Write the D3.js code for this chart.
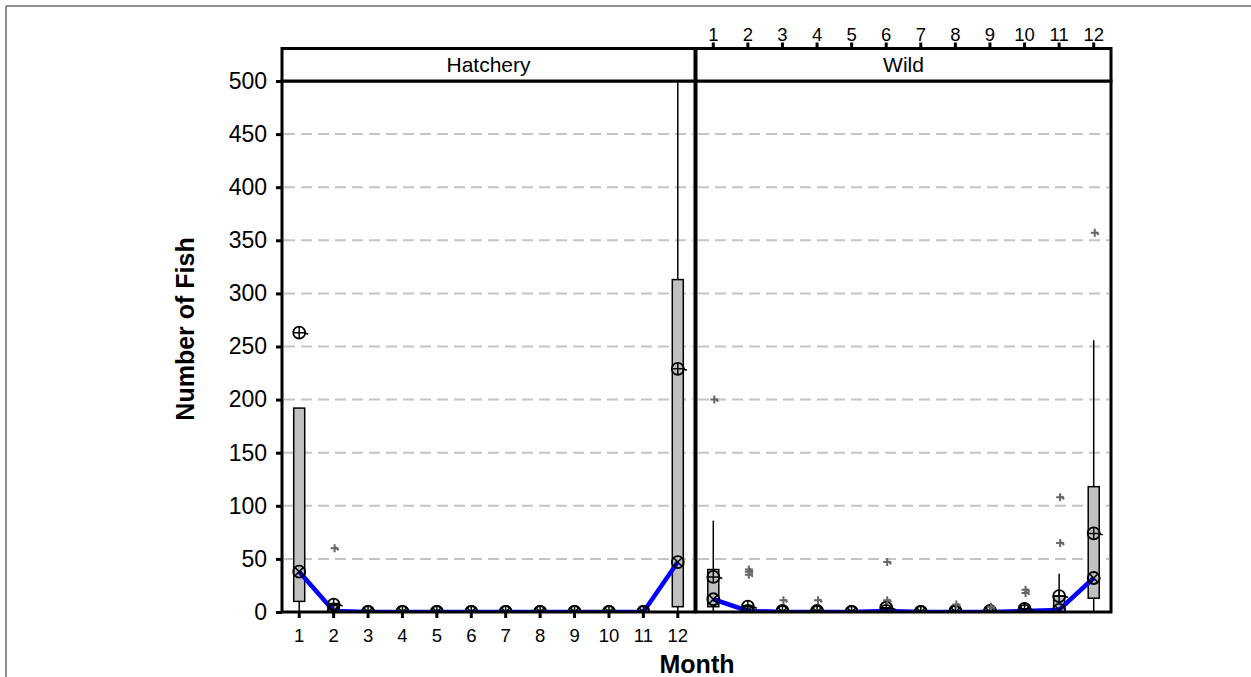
<!DOCTYPE html>
<html>
<head>
<meta charset="utf-8">
<script src="https://cdn.jsdelivr.net/npm/d3@7"></script>
<style>
  html, body { margin: 0; padding: 0; background: #fff; }
  svg { display: block; }
  text { font-family: "Liberation Sans", Arial, sans-serif; fill: #000; }
</style>
</head>
<body>
<svg id="chart" width="1251" height="677"></svg>
<script>
// Monthly fish counts by origin: box summaries, medians, means and outliers
const months = [1, 2, 3, 4, 5, 6, 7, 8, 9, 10, 11, 12];
const yTicks = [0, 50, 100, 150, 200, 250, 300, 350, 400, 450, 500];
const panelNames = ["Hatchery", "Wild"];

// Hatchery
const hatQ1     = [10, 0, 0, 0, 0, 0, 0, 0, 0, 0, 0, 5];
const hatQ3     = [192, 8, 0, 0, 0, 0, 0, 0, 0, 0, 0, 313];
const hatLow    = [0, 0, 0, 0, 0, 0, 0, 0, 0, 0, 0, 0];
const hatHigh   = [192, 8, 0, 0, 0, 0, 0, 0, 0, 0, 0, 540];
const hatMedian = [38, 1, 0, 0, 0, 0, 0, 0, 0, 0, 0, 47];
const hatMean   = [263, 7, 0, 0, 0, 0, 0, 0, 0, 0, 0, 229];
const hatOutMonth = [2];
const hatOutValue = [60];

// Wild
const wildQ1     = [5, 0, 0, 0, 0, 0, 0, 0, 0, 0, 0, 13];
const wildQ3     = [40, 6, 0, 0, 0, 3, 0, 0, 0, 2, 15, 118];
const wildLow    = [0, 0, 0, 0, 0, 0, 0, 0, 0, 0, 0, 0];
const wildHigh   = [86, 6, 0, 0, 0, 3, 0, 0, 0, 2, 36, 256];
const wildMedian = [12, 1, 0, 0, 0, 1, 0, 0, 0, 1, 2, 32];
const wildMean   = [33, 5, 1, 1, 0, 4, 0, 1, 1, 3, 15, 74];
const wildOutMonth = [1, 2, 2, 2, 3, 4, 6, 6, 8, 9, 10, 10, 11, 11, 12];
const wildOutValue = [200, 35, 38, 40, 11, 11, 47, 11, 7, 5, 18, 21, 65, 108, 357];

function buildPanel(q1, q3, lo, hi, med, mean, outM, outV) {
  return {
    stats: months.map((m, i) => ({ month: m, q1: q1[i], q3: q3[i], lo: lo[i], hi: hi[i], median: med[i], mean: mean[i] })),
    outliers: outM.map((m, i) => ({ month: m, value: outV[i] }))
  };
}
const panels = [
  Object.assign({ name: panelNames[0] }, buildPanel(hatQ1, hatQ3, hatLow, hatHigh, hatMedian, hatMean, hatOutMonth, hatOutValue)),
  Object.assign({ name: panelNames[1] }, buildPanel(wildQ1, wildQ3, wildLow, wildHigh, wildMedian, wildMean, wildOutMonth, wildOutValue))
];

const svg = d3.select("#chart");
const FONT = "Liberation Sans, Arial, sans-serif";

// outer frame
svg.append("line").attr("x1", 6).attr("y1", 6).attr("x2", 1251).attr("y2", 6)
  .attr("stroke", "#6a6a6a").attr("stroke-width", 1.5);
svg.append("line").attr("x1", 6).attr("y1", 6).attr("x2", 6).attr("y2", 677)
  .attr("stroke", "#6a6a6a").attr("stroke-width", 1.5);

const plotTop = 81, plotBottom = 612, headerTop = 48.5;
const panelX = [[282, 695], [696, 1111]];

const y = d3.scaleLinear().domain([0, 500]).range([plotBottom, plotTop]);

// y axis
const yAxis = d3.axisLeft(y).tickValues(yTicks).tickSize(6).tickPadding(9).tickFormat(d3.format("d"));
const yg = svg.append("g").attr("transform", `translate(${panelX[0][0]},0)`).call(yAxis);
yg.select(".domain").remove();
yg.selectAll(".tick line").attr("stroke", "#000").attr("stroke-width", 3);
yg.selectAll(".tick text").style("font-size", "23px").style("font-family", FONT);

svg.append("text")
  .attr("transform", `translate(194,329) rotate(-90)`)
  .attr("text-anchor", "middle")
  .style("font-size", "25px").style("font-weight", "bold")
  .text("Number of Fish");

svg.append("text")
  .attr("x", 697).attr("y", 673)
  .attr("text-anchor", "middle")
  .style("font-size", "25px").style("font-weight", "bold")
  .text("Month");

const defs = svg.append("defs");

panels.forEach((p, pi) => {
  const [x0, x1] = panelX[pi];
  const x = d3.scaleBand().domain(months).range([x0, x1]).padding(0);
  const cx = m => x(m) + x.bandwidth() / 2;
  const boxW = 11;

  const clipId = "clip" + pi;
  defs.append("clipPath").attr("id", clipId)
    .append("rect").attr("x", x0).attr("y", plotTop).attr("width", x1 - x0).attr("height", plotBottom - plotTop);

  const g = svg.append("g");

  // gridlines
  g.selectAll(".grid").data(yTicks.filter(v => v > 0 && v < 500)).enter()
    .append("line")
    .attr("x1", x0 + 2).attr("x2", x1 - 2)
    .attr("y1", d => y(d)).attr("y2", d => y(d))
    .attr("stroke", "#c4c4c4").attr("stroke-width", 2).attr("stroke-dasharray", "11,6");

  const inner = g.append("g").attr("clip-path", `url(#${clipId})`);

  // whiskers
  inner.selectAll(".wh").data(p.stats.filter(d => d.hi > d.lo)).enter()
    .append("line")
    .attr("x1", d => cx(d.month)).attr("x2", d => cx(d.month))
    .attr("y1", d => y(d.lo)).attr("y2", d => y(d.hi))
    .attr("stroke", "#000").attr("stroke-width", 1.5);

  // boxes
  inner.selectAll(".box").data(p.stats.filter(d => d.q3 > d.q1)).enter()
    .append("rect")
    .attr("x", d => cx(d.month) - boxW / 2)
    .attr("width", boxW)
    .attr("y", d => y(d.q3))
    .attr("height", d => y(d.q1) - y(d.q3))
    .attr("fill", "#c0c0c0").attr("stroke", "#000").attr("stroke-width", 1.5);

  // median line
  const line = d3.line().x(d => cx(d.month)).y(d => y(d.median));
  inner.append("path").datum(p.stats)
    .attr("d", line).attr("fill", "none")
    .attr("stroke", "#0000ff").attr("stroke-width", 4.5).attr("stroke-linejoin", "round");

  const r = 6;
  // mean symbols (circle with plus and a short tail)
  const meanG = inner.selectAll(".mean").data(p.stats).enter()
    .append("g").attr("transform", d => `translate(${cx(d.month)},${y(d.mean)})`);
  meanG.append("circle").attr("r", r).attr("fill", "none").attr("stroke", "#000").attr("stroke-width", 1.8);
  meanG.append("path").attr("d", `M${-r},0H${r}M0,${-r}V${r}M${r - 1},0L${r + 3},1.5`)
    .attr("fill", "none").attr("stroke", "#000").attr("stroke-width", 1.5);

  // median symbols (circle with x)
  const k = r * 0.707;
  const medG = inner.selectAll(".med").data(p.stats).enter()
    .append("g").attr("transform", d => `translate(${cx(d.month)},${y(d.median)})`);
  medG.append("circle").attr("r", r).attr("fill", "none").attr("stroke", "#000").attr("stroke-width", 1.8);
  medG.append("path").attr("d", `M${-k},${-k}L${k},${k}M${-k},${k}L${k},${-k}`).attr("stroke", "#000").attr("stroke-width", 1.5);

  // outliers
  inner.selectAll(".out").data(p.outliers).enter()
    .append("path")
    .attr("transform", d => `translate(${cx(d.month) + 1},${y(d.value)})`)
    .attr("d", "M-4,0H4M0,-4V4M1,-1L4,2")
    .attr("fill", "none").attr("stroke", "#666").attr("stroke-width", 2);

  // panel frame
  g.append("rect").attr("x", x0).attr("y", plotTop).attr("width", x1 - x0).attr("height", plotBottom - plotTop)
    .attr("fill", "none").attr("stroke", "#000").attr("stroke-width", 3);

  // header strip
  g.append("rect").attr("x", x0).attr("y", headerTop).attr("width", x1 - x0).attr("height", plotTop - headerTop)
    .attr("fill", "#fff").attr("stroke", "#000").attr("stroke-width", 3);
  g.append("text").attr("x", (x0 + x1) / 2).attr("y", (headerTop + plotTop) / 2 + 7.5)
    .attr("text-anchor", "middle").style("font-size", "21px").text(p.name);

  // month axis: bottom on the first panel, top on the second
  if (pi === 0) {
    const ax = d3.axisBottom(x).tickSize(6).tickPadding(11);
    const ag = svg.append("g").attr("transform", `translate(0,${plotBottom})`).call(ax);
    ag.select(".domain").remove();
    ag.selectAll(".tick line").attr("stroke", "#000").attr("stroke-width", 3);
    ag.selectAll(".tick text").style("font-size", "18.5px").style("font-family", FONT);
  } else {
    const ax = d3.axisTop(x).tickSize(6).tickPadding(1.5);
    const ag = svg.append("g").attr("transform", `translate(0,${headerTop})`).call(ax);
    ag.select(".domain").remove();
    ag.selectAll(".tick line").attr("stroke", "#000").attr("stroke-width", 3);
    ag.selectAll(".tick text").style("font-size", "18.5px").style("font-family", FONT);
  }
});
</script>
</body>
</html>
